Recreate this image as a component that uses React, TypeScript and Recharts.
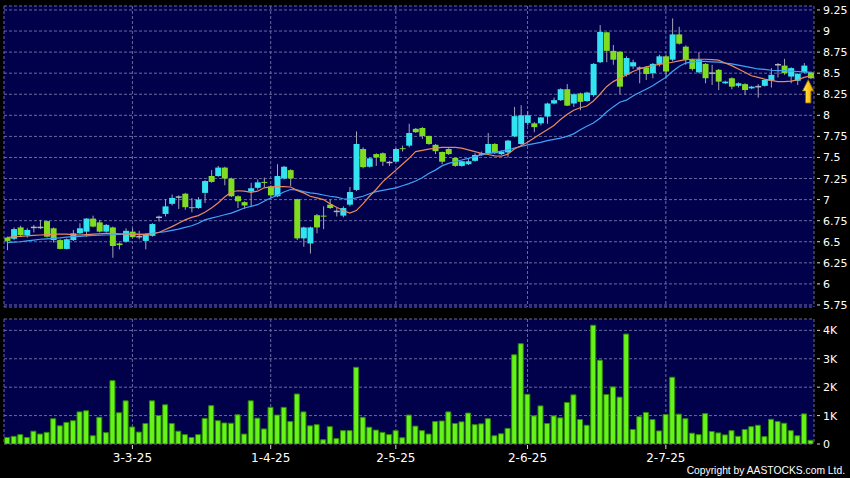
import React from 'react';
import {
  ComposedChart,
  Bar,
  Line,
  XAxis,
  YAxis,
  CartesianGrid,
  ReferenceDot,
} from 'recharts';

// x positions of the date labels (bar index) and their text
const tickIndex = [19, 40, 59, 79, 100];
const tickLabels = ['3-3-25', '1-4-25', '2-5-25', '2-6-25', '2-7-25'];

const priceTicks = [5.75, 6, 6.25, 6.5, 6.75, 7, 7.25, 7.5, 7.75, 8, 8.25, 8.5, 8.75, 9, 9.25];
const volumeTicks = [0, 1000, 2000, 3000, 4000];

const opens = [
  6.55, 6.535, 6.67, 6.58, 6.67, 6.67, 6.745, 6.66, 6.52, 6.415,
  6.52, 6.6, 6.62, 6.775, 6.73, 6.62, 6.67, 6.48, 6.5, 6.62,
  6.56, 6.51, 6.57, 6.79, 6.83, 6.95, 7.03, 7.07, 6.91, 6.9,
  7.08, 7.28, 7.28, 7.38, 7.25, 7.04, 6.97, 7.095, 7.14, 7.21,
  7.155, 7.04, 7.25, 7.35, 7.005, 6.54, 6.48, 6.815, 6.81, 6.94,
  6.86, 6.81, 6.94, 7.115, 7.6, 7.39, 7.54, 7.55, 7.44, 7.45,
  7.61, 7.64, 7.84, 7.85, 7.755, 7.65, 7.565, 7.6, 7.495, 7.4,
  7.42, 7.46, 7.54, 7.55, 7.66, 7.54, 7.56, 7.75, 7.66, 7.91,
  7.905, 7.905, 7.985, 8.14, 8.18, 8.31, 8.14, 8.26, 8.17, 8.24,
  8.63, 8.985, 8.765, 8.755, 8.48, 8.58, 8.56, 8.57, 8.5, 8.61,
  8.7, 8.66, 8.96, 8.815, 8.66, 8.51, 8.61, 8.5, 8.54, 8.38,
  8.44, 8.35, 8.37, 8.32, 8.34, 8.35, 8.41, 8.6, 8.59, 8.46,
  8.41, 8.51, 8.51,
];
const highs = [
  6.56, 6.67, 6.69, 6.66, 6.7, 6.76, 6.75, 6.67, 6.53, 6.54,
  6.64, 6.72, 6.78, 6.81, 6.76, 6.71, 6.68, 6.49, 6.66, 6.66,
  6.63, 6.6, 6.72, 6.81, 7.005, 7.06, 7.05, 7.08, 7.02, 7.03,
  7.23, 7.35, 7.4, 7.39, 7.26, 7.05, 6.98, 7.2, 7.24, 7.26,
  7.17, 7.42, 7.4, 7.36, 7.01, 6.68, 6.68, 6.83, 6.92, 7.0,
  6.9, 6.92, 7.15, 7.81, 7.62, 7.5, 7.55, 7.56, 7.46, 7.61,
  7.64, 7.9, 7.85, 7.86, 7.76, 7.66, 7.57, 7.61, 7.5, 7.46,
  7.48, 7.55, 7.57, 7.79, 7.67, 7.58, 7.71, 8.1, 8.12, 8.05,
  7.92, 7.98, 8.15, 8.21, 8.32, 8.37, 8.26, 8.27, 8.28, 8.62,
  9.07, 8.99, 8.835, 8.76, 8.7, 8.66, 8.58, 8.58, 8.62, 8.72,
  8.72, 9.15, 9.05, 8.83, 8.67, 8.75, 8.62, 8.6, 8.55, 8.41,
  8.45, 8.39, 8.38, 8.35, 8.37, 8.43, 8.56, 8.62, 8.67, 8.57,
  8.5, 8.62, 8.52,
];
const lows = [
  6.4, 6.52, 6.56, 6.55, 6.61, 6.65, 6.55, 6.49, 6.41, 6.41,
  6.51, 6.59, 6.56, 6.67, 6.61, 6.61, 6.31, 6.41, 6.49, 6.54,
  6.53, 6.41, 6.56, 6.74, 6.8, 6.93, 6.89, 6.88, 6.85, 6.89,
  6.96, 7.2, 7.27, 7.17, 7.03, 6.9, 6.89, 6.925, 7.12, 7.15,
  7.03, 7.03, 7.24, 7.16, 6.52, 6.44, 6.36, 6.6, 6.65, 6.89,
  6.8, 6.79, 6.92, 7.1, 7.37, 7.38, 7.4, 7.4, 7.4, 7.44,
  7.57, 7.62, 7.79, 7.72, 7.65, 7.54, 7.42, 7.53, 7.39, 7.39,
  7.41, 7.45, 7.52, 7.54, 7.54, 7.53, 7.5, 7.74, 7.65, 7.88,
  7.8, 7.88, 7.9, 8.13, 8.17, 8.11, 8.1, 8.06, 8.16, 8.22,
  8.62, 8.63, 8.6, 8.25, 8.46, 8.55, 8.38, 8.42, 8.44, 8.58,
  8.44, 8.64, 8.84, 8.6, 8.53, 8.5, 8.38, 8.36, 8.3, 8.37,
  8.31, 8.33, 8.24, 8.31, 8.21, 8.34, 8.33, 8.45, 8.48, 8.38,
  8.36, 8.5, 8.43,
];
const closes = [
  6.51, 6.65, 6.58, 6.64, 6.67, 6.67, 6.56, 6.52, 6.415, 6.53,
  6.6, 6.66, 6.775, 6.68, 6.62, 6.7, 6.45, 6.46, 6.63, 6.555,
  6.56, 6.59, 6.71, 6.79, 6.92, 7.02, 7.03, 6.91, 6.9, 7.0,
  7.22, 7.21, 7.38, 7.25, 7.04, 6.98, 6.93, 7.135, 7.205, 7.2,
  7.05, 7.28, 7.39, 7.25, 6.54, 6.67, 6.67, 6.67, 6.8, 6.9,
  6.86, 6.9, 7.09, 7.66, 7.385, 7.49, 7.5, 7.45, 7.44, 7.6,
  7.6, 7.79, 7.8, 7.755, 7.66, 7.575, 7.45, 7.54, 7.4, 7.455,
  7.455, 7.53, 7.54, 7.66, 7.55, 7.57, 7.7, 7.99, 8.0, 8.0,
  7.86, 7.975, 8.14, 8.18, 8.31, 8.115, 8.25, 8.16, 8.27, 8.61,
  8.99, 8.765, 8.66, 8.34, 8.68, 8.63, 8.56, 8.49, 8.61, 8.7,
  8.52, 8.96, 8.85, 8.66, 8.55, 8.66, 8.44, 8.5, 8.4, 8.4,
  8.34, 8.38, 8.3, 8.34, 8.34, 8.42, 8.48, 8.6, 8.5, 8.56,
  8.49, 8.59, 8.44,
];

// orange (short) and blue (long) moving average lines
const maFast = [
  6.55, 6.56, 6.565, 6.57, 6.575, 6.58, 6.585, 6.59, 6.59, 6.59,
  6.585, 6.58, 6.585, 6.59, 6.595, 6.6, 6.6, 6.595, 6.59, 6.59,
  6.585, 6.585, 6.595, 6.61, 6.645, 6.68, 6.72, 6.76, 6.79, 6.81,
  6.85, 6.9, 6.96, 7.03, 7.09, 7.105, 7.1, 7.085, 7.1, 7.14,
  7.15, 7.155, 7.155, 7.15, 7.11, 7.08, 7.04, 7.02, 7.0, 6.95,
  6.91, 6.87, 6.84, 6.87, 6.95, 7.04, 7.12, 7.21, 7.28, 7.35,
  7.42, 7.49, 7.57, 7.585, 7.6, 7.61, 7.62, 7.62, 7.62, 7.61,
  7.59, 7.57, 7.55, 7.535, 7.52, 7.515, 7.54, 7.6, 7.64, 7.68,
  7.73, 7.78, 7.83, 7.88, 7.95, 8.01, 8.06, 8.09, 8.11, 8.17,
  8.25, 8.34, 8.4, 8.44, 8.48, 8.52, 8.55, 8.575, 8.59, 8.605,
  8.615, 8.63, 8.645, 8.66, 8.665, 8.665, 8.665, 8.66, 8.655, 8.62,
  8.59, 8.55, 8.51, 8.47, 8.45, 8.43, 8.415, 8.4, 8.4, 8.405,
  8.42, 8.45, 8.47,
];
const maSlow = [
  6.49, 6.495, 6.5, 6.51, 6.52, 6.53, 6.535, 6.54, 6.545, 6.555,
  6.56, 6.565, 6.57, 6.575, 6.578, 6.58, 6.583, 6.586, 6.59, 6.59,
  6.592, 6.595, 6.6, 6.61, 6.62, 6.635, 6.65, 6.67, 6.69, 6.72,
  6.76, 6.78, 6.8, 6.82, 6.84, 6.87, 6.9, 6.92, 6.94, 6.98,
  7.02, 7.05, 7.09, 7.12, 7.115, 7.095, 7.08, 7.07, 7.055, 7.04,
  7.03, 7.01, 7.005, 7.02, 7.04, 7.07, 7.095, 7.11, 7.125, 7.14,
  7.165, 7.19, 7.22, 7.26, 7.31, 7.35, 7.4, 7.43, 7.45, 7.47,
  7.49, 7.51, 7.53, 7.545, 7.56, 7.575, 7.59, 7.61, 7.63, 7.65,
  7.665, 7.68, 7.7, 7.715, 7.73, 7.75, 7.78, 7.83, 7.87, 7.91,
  7.965, 8.04, 8.1, 8.155, 8.18, 8.23, 8.27, 8.31, 8.35, 8.4,
  8.45, 8.52, 8.58, 8.62, 8.635, 8.64, 8.64, 8.635, 8.63, 8.62,
  8.61, 8.595, 8.58, 8.565, 8.55, 8.545, 8.535, 8.53, 8.53, 8.525,
  8.52, 8.515, 8.51,
];

const volumes = [
  230, 270, 330, 230, 450, 350, 410, 890, 640, 760,
  820, 1130, 1170, 290, 940, 400, 2230, 1100, 1520, 600,
  420, 720, 1520, 1000, 1380, 720, 450, 330, 230, 330,
  900, 1350, 820, 740, 730, 1030, 350, 1520, 910, 530,
  1290, 1020, 1290, 790, 1760, 1130, 640, 680, 150, 610,
  190, 470, 470, 2700, 940, 590, 490, 410, 330, 470,
  220, 1020, 630, 470, 350, 790, 810, 1130, 720, 780,
  1090, 680, 710, 890, 290, 360, 550, 3140, 3530, 1750,
  990, 1340, 720, 990, 920, 1460, 1730, 860, 660, 4180,
  2950, 1740, 2010, 1650, 3870, 510, 960, 1110, 860, 460,
  1040, 2350, 1050, 890, 380, 330, 1070, 440, 390, 320,
  470, 270, 510, 610, 660, 260, 870, 790, 730, 470,
  290, 1060, 130,
];

const data = opens.map((open, i) => ({
  idx: i,
  open,
  high: highs[i],
  low: lows[i],
  close: closes[i],
  fast: maFast[i],
  slow: maSlow[i],
  volume: volumes[i],
}));

const BG = '#00004b';
const GRID = '#6a6aa0';
const UP = '#33e4f0';
const DOWN = '#7fdc1f';
const FLAT = '#b4b4c0';
const WICK = '#a4a4b4';
const FONT = 'DejaVu Sans';

function Candle(props: any) {
  const { x, y, width, height, payload } = props;
  if (!payload) return null;
  const { open, close, high, low } = payload;
  const top = Math.min(y, y + height);
  const h = Math.abs(height);
  const toY = (v: number) => top + ((high - v) / (high - low)) * h;
  const cx = x + width / 2;
  const yo = toY(open);
  const yc = toY(close);
  const flat = open === close;
  return (
    <g>
      <line x1={cx} x2={cx} y1={top} y2={top + h} stroke={WICK} strokeWidth={1} />
      {flat ? (
        <line x1={x} x2={x + width} y1={yo} y2={yo} stroke={FLAT} strokeWidth={1.5} />
      ) : (
        <rect
          x={x}
          y={Math.min(yo, yc)}
          width={width}
          height={Math.max(Math.abs(yo - yc), 1)}
          fill={close > open ? UP : DOWN}
        />
      )}
    </g>
  );
}

function RightTick(props: any) {
  const { x, y, payload, fmt } = props;
  return (
    <g>
      <line x1={x + 3} x2={x + 6} y1={y} y2={y} stroke="#d8d8d8" strokeWidth={1} />
      <text x={x + 9} y={y + 4} fill="#ffffff" fontSize={11} fontFamily={FONT}>
        {fmt(payload.value)}
      </text>
    </g>
  );
}

function DateTick(props: any) {
  const { x, y, payload } = props;
  const label = tickLabels[tickIndex.indexOf(payload.value)];
  return (
    <g>
      <line x1={x} x2={x} y1={y + 1} y2={y + 5} stroke="#d8d8d8" strokeWidth={1} />
      <text x={x} y={y + 18} textAnchor="middle" fill="#ffffff" fontSize={12} fontFamily={FONT}>
        {label}
      </text>
    </g>
  );
}

function UpArrow(props: any) {
  const { cx, cy } = props;
  const ax = cx - 2.5;
  const t = cy + 0.5;
  const pts = [
    [ax, t],
    [ax + 5.8, t + 11.5],
    [ax + 2.8, t + 11.5],
    [ax + 2.8, t + 23.5],
    [ax - 2.8, t + 23.5],
    [ax - 2.8, t + 11.5],
    [ax - 5.8, t + 11.5],
  ]
    .map((p) => p.join(','))
    .join(' ');
  return (
    <g>
      <defs>
        <linearGradient id="arrowFill" x1="0" y1="0" x2="1" y2="0">
          <stop offset="0%" stopColor="#fff06a" />
          <stop offset="55%" stopColor="#ffc81a" />
          <stop offset="100%" stopColor="#e09a00" />
        </linearGradient>
      </defs>
      <polygon points={pts} fill="url(#arrowFill)" stroke="#6e5200" strokeWidth={0.8} />
    </g>
  );
}

export default function App() {
  return (
    <div
      style={{
        position: 'fixed',
        left: 0,
        top: 0,
        width: 850,
        height: 478,
        background: '#000000',
        overflow: 'hidden',
      }}
    >
      <div style={{ position: 'absolute', left: 0, top: 0 }}>
        <ComposedChart
          width={850}
          height={314}
          data={data}
          margin={{ top: 6, right: 0, bottom: 7, left: 4 }}
          barCategoryGap={0.5}
        >
          <CartesianGrid stroke={GRID} strokeDasharray="3 2" fill={BG} fillOpacity={1} />
          <XAxis dataKey="idx" type="category" ticks={tickIndex} interval={0} hide />
          <YAxis
            orientation="right"
            width={36}
            domain={[5.726, 9.297]}
            ticks={priceTicks}
            allowDataOverflow
            axisLine={false}
            tickLine={false}
            tickSize={0}
            tickMargin={0}
            interval={0}
            tick={<RightTick fmt={(v: number) => String(v)} />}
          />
          <Bar
            dataKey={(d: any) => [d.low, d.high]}
            shape={(p: any) => <Candle {...p} />}
            isAnimationActive={false}
          />
          <Line
            dataKey="slow"
            stroke="#3fa3f5"
            strokeWidth={1.2}
            dot={false}
            type="linear"
            isAnimationActive={false}
          />
          <Line
            dataKey="fast"
            stroke="#e98a5c"
            strokeWidth={1.2}
            dot={false}
            type="linear"
            isAnimationActive={false}
          />
          <ReferenceDot
            x={122}
            y={lows[122]}
            r={0}
            shape={(p: any) => <UpArrow {...p} />}
          />
        </ComposedChart>
      </div>
      <div style={{ position: 'absolute', left: 0, top: 311 }}>
        <ComposedChart
          width={850}
          height={167}
          data={data}
          margin={{ top: 8, right: 0, bottom: 0, left: 4 }}
          barCategoryGap={0.6}
        >
          <CartesianGrid stroke={GRID} strokeDasharray="3 2" fill={BG} fillOpacity={1} />
          <XAxis
            dataKey="idx"
            type="category"
            ticks={tickIndex}
            interval={0}
            height={34}
            axisLine={false}
            tickLine={false}
            tickSize={0}
            tickMargin={0}
            tick={<DateTick />}
          />
          <YAxis
            orientation="right"
            width={36}
            domain={[0, 4400]}
            ticks={volumeTicks}
            allowDataOverflow
            axisLine={false}
            tickLine={false}
            tickSize={0}
            tickMargin={0}
            interval={0}
            tick={<RightTick fmt={(v: number) => (v === 0 ? '0' : `${v / 1000}K`)} />}
          />
          <Bar
            dataKey="volume"
            fill="#66f31a"
            stroke="#2e8a05"
            strokeWidth={1}
            isAnimationActive={false}
          />
        </ComposedChart>
      </div>
      <div
        style={{
          position: 'absolute',
          right: 5,
          top: 464,
          color: '#ffffff',
          fontFamily: '"Liberation Sans", Arial, sans-serif',
          fontSize: 10.3,
          lineHeight: '13px',
          whiteSpace: 'nowrap',
        }}
      >
        Copyright by AASTOCKS.com Ltd.
      </div>
    </div>
  );
}
